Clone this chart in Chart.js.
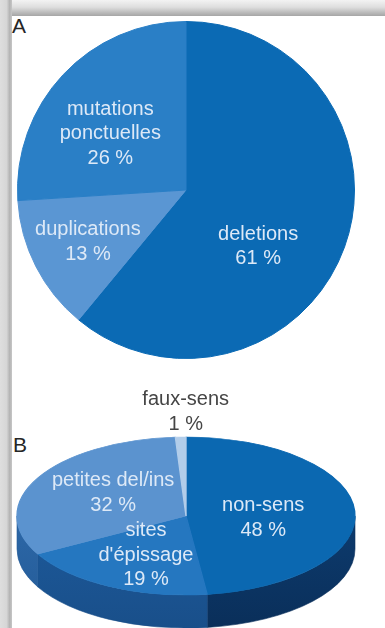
<!DOCTYPE html>
<html><head><meta charset="utf-8">
<script src="https://cdn.jsdelivr.net/npm/chart.js@4.4.1/dist/chart.umd.min.js"></script>
<style>
html,body{margin:0;padding:0;width:385px;height:628px;overflow:hidden;background:#fff;font-family:"Liberation Sans",Arial,Helvetica,sans-serif;}
#topband{position:absolute;left:0;top:0;width:385px;height:16px;background:linear-gradient(#f3f3f3,#dedede 45%,#b9b9b9 80%,#a6a6a6);}
#leftband{position:absolute;left:0;top:0;width:12px;height:628px;background:linear-gradient(90deg,#dedede,#d6d6d6 55%,#b4b4b4 80%,#c6c6c6);}
.tag{position:absolute;font-size:21px;line-height:21px;color:#262626;}
#wrapA{position:absolute;left:17px;top:21px;width:338px;height:338px;}
#wrapB{position:absolute;left:0;top:380px;width:385px;height:248px;}
</style>
</head><body>
<div id="topband"></div><div id="leftband"></div>
<div class="tag" style="left:12px;top:15px;">A</div>
<div class="tag" style="left:13px;top:434px;">B</div>
<div id="wrapA"><canvas id="cA"></canvas></div>
<div id="wrapB"><canvas id="cB"></canvas></div>
<script>
// ---- data ----
const categoriesA = [['deletions'], ['duplications'], ['mutations', 'ponctuelles']];
const valuesA = [61, 13, 26];
const categoriesB = [['non-sens'], ['sites', "d'épissage"], ['petites del/ins'], ['faux-sens']];
const valuesB = [48, 19, 32, 1];

// ---- styles ----
const colorsA = ['#0b6ab4', '#5a96d3', '#2a7fc6'];
const colorsB = ['#0b68b1', '#2577c0', '#5b93cf', '#b2cdea'];
const sideB = [['#0d3b6e', '#0a2f5a'], ['#1d5a9b', '#194f8a'], ['#2c67a7', '#245b97'], ['#8fb0d6', '#7c9ec8']];
const inColor = '#dde9f7';
const outColor = '#454545';
const offsA = [[-23, 22], [-8, 6], [-2, 13]];
const offsB = [[-24, 5], [6, -3], [16, 0], [5, -25]];
const lineH = 24.5;

function drawLabels(chart, cats, vals, offs, map, colorFn) {
  const ctx = chart.ctx;
  const els = chart.getDatasetMeta(0).data;
  ctx.save();
  ctx.font = '20px "Liberation Sans", Arial, sans-serif';
  ctx.textAlign = 'center';
  ctx.textBaseline = 'middle';
  els.forEach((el, i) => {
    const mid = (el.startAngle + el.endAngle) / 2;
    const k = (i === 3 && cats.length === 4) ? 1.0 : 0.6;
    let px = el.x + Math.cos(mid) * el.outerRadius * k;
    let py = el.y + Math.sin(mid) * el.outerRadius * k;
    [px, py] = map(px, py, el);
    const lines = cats[i].concat([vals[i] + ' %']);
    const x = px + offs[i][0];
    const y0 = py + offs[i][1] - (lines.length - 1) * lineH / 2;
    ctx.fillStyle = colorFn(i);
    lines.forEach((t, j) => ctx.fillText(t, x, y0 + j * lineH));
  });
  ctx.restore();
}

const labelsA = {
  id: 'labelsA',
  afterDatasetsDraw(chart) {
    drawLabels(chart, categoriesA, valuesA, offsA, (x, y) => [x, y], () => inColor);
  }
};

new Chart(document.getElementById('cA'), {
  type: 'pie',
  data: {
    labels: categoriesA.map(c => c.join(' ')),
    datasets: [{ data: valuesA, backgroundColor: colorsA, borderColor: colorsA, borderWidth: 1 }]
  },
  options: {
    responsive: true, maintainAspectRatio: false, animation: false,
    layout: { padding: 0 },
    plugins: { legend: { display: false }, tooltip: { enabled: false } },
    events: []
  },
  plugins: [labelsA]
});

// tilted 3D pie geometry (target ellipse in canvas B px)
const tiltCfg = { cx: 186, cy: 136, rx: 169, ry: 79, depth: 33 };

function tiltMap(x, y, el) {
  const r = el.outerRadius;
  return [tiltCfg.cx + (x - el.x) * tiltCfg.rx / r, tiltCfg.cy + (y - el.y) * tiltCfg.ry / r];
}

const tilt = {
  id: 'tilt',
  beforeDatasetsDraw(chart) {
    const ctx = chart.ctx;
    const els = chart.getDatasetMeta(0).data;
    const { cx, cy, rx, ry, depth } = tiltCfg;
    // side walls (front half only)
    els.forEach((el, i) => {
      const ranges = [[0, Math.PI], [2 * Math.PI, 3 * Math.PI]];
      ranges.forEach(([lo, hi]) => {
        const a0 = Math.max(el.startAngle, lo), a1 = Math.min(el.endAngle, hi);
        if (a1 <= a0) return;
        ctx.save();
        ctx.beginPath();
        ctx.ellipse(cx, cy, rx, ry, 0, a0, a1, false);
        ctx.ellipse(cx, cy + depth, rx, ry, 0, a1, a0, true);
        ctx.closePath();
        const g = ctx.createLinearGradient(0, cy, 0, cy + ry + depth);
        g.addColorStop(0, sideB[i][0]);
        g.addColorStop(1, sideB[i][1]);
        ctx.fillStyle = g;
        ctx.strokeStyle = sideB[i][1];
        ctx.lineWidth = 0.6;
        ctx.fill();
        ctx.stroke();
        ctx.restore();
      });
    });
    // top surface: library arcs drawn through an elliptical projection
    const el0 = els[0];
    const r = el0.outerRadius;
    ctx.save();
    ctx.translate(cx, cy);
    ctx.scale(rx / r, ry / r);
    ctx.translate(-el0.x, -el0.y);
    els.forEach(el => el.draw(ctx));
    ctx.restore();
    return false;
  },
  afterDraw(chart) {
    drawLabels(chart, categoriesB, valuesB, offsB, tiltMap, i => (i === 3 ? outColor : inColor));
  }
};

new Chart(document.getElementById('cB'), {
  type: 'pie',
  data: {
    labels: categoriesB.map(c => c.join(' ')),
    datasets: [{ data: valuesB, backgroundColor: colorsB, borderColor: colorsB, borderWidth: 1 }]
  },
  options: {
    responsive: true, maintainAspectRatio: false, animation: false,
    layout: { padding: 0 },
    plugins: { legend: { display: false }, tooltip: { enabled: false } },
    events: []
  },
  plugins: [tilt]
});
</script>
</body></html>
